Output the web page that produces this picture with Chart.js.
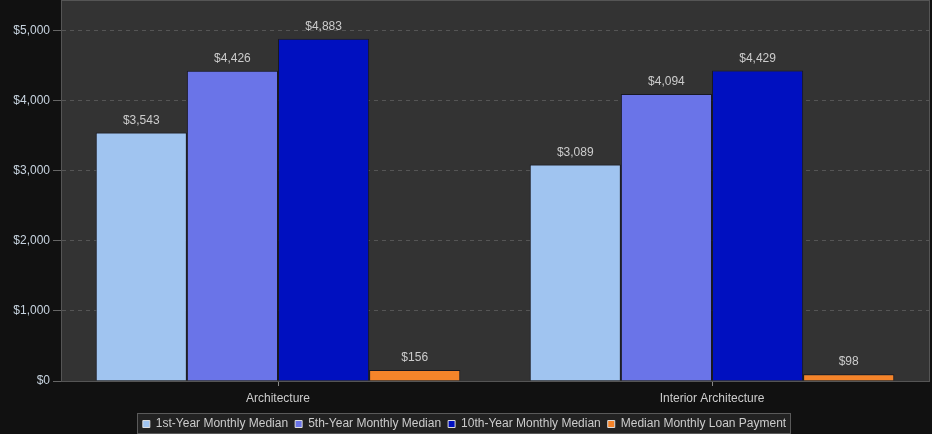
<!DOCTYPE html>
<html>
<head>
<meta charset="utf-8">
<script src="https://cdn.jsdelivr.net/npm/chart.js@4/dist/chart.umd.min.js"></script>
<style>
html,body{margin:0;padding:0;background:#111111;}
#wrap{width:932px;height:434px;position:relative;}
</style>
</head>
<body>
<div id="wrap"><canvas id="c" width="932" height="434"></canvas></div>
<script>
const categories = ["Architecture", "Interior Architecture"];
const seriesNames = ["1st-Year Monthly Median", "5th-Year Monthly Median", "10th-Year Monthly Median", "Median Monthly Loan Payment"];
const firstYear = [3543, 3089];
const fifthYear = [4426, 4094];
const tenthYear = [4883, 4429];
const loanPayment = [156, 98];
const yTicks = [0, 1000, 2000, 3000, 4000, 5000];
const yMax = 5420;

const colors = ["#A0C4F0", "#6A74E8", "#0010C0", "#F5842A"];
const seriesValues = [firstYear, fifthYear, tenthYear, loanPayment];
const FONT = "'Liberation Sans', Arial, sans-serif";

function money(v){ return "$" + v.toLocaleString("en-US"); }

function legendFrame(chart){
  const lg = chart.legend;
  if (!lg || !lg.legendHitBoxes || !lg.legendHitBoxes.length) return null;
  let l = Infinity, r = -Infinity, t = Infinity, b = -Infinity;
  lg.legendHitBoxes.forEach(h => { l=Math.min(l,h.left); r=Math.max(r,h.left+h.width); t=Math.min(t,h.top); b=Math.max(b,h.top+h.height); });
  return [Math.round(l)-5.5, Math.round(t)-4.5, Math.round(r-l)+10, Math.round(b-t)+8];
}

const bgPlugin = {
  id: "bgPlugin",
  beforeDraw(chart){
    const {ctx, chartArea:a} = chart;
    ctx.save();
    ctx.fillStyle = "#111111";
    ctx.fillRect(0,0,chart.width,chart.height);
    ctx.fillStyle = "#333333";
    ctx.fillRect(a.left, a.top, a.right-a.left, a.bottom-a.top);
    const f = legendFrame(chart);
    if (f){ ctx.fillStyle = "#222222"; ctx.fillRect(f[0], f[1], f[2], f[3]); }
    ctx.restore();
  },
  afterDraw(chart){
    const {ctx, chartArea:a} = chart;
    ctx.save();
    ctx.strokeStyle = "#555555";
    ctx.lineWidth = 1;
    ctx.strokeRect(Math.round(a.left)+0.5, Math.round(a.top)-0.5, Math.round(a.right-a.left), Math.round(a.bottom-a.top)+1);
    const f = legendFrame(chart);
    if (f){ ctx.strokeStyle = "#5a5a5a"; ctx.strokeRect(f[0], f[1], f[2], f[3]); }
    ctx.restore();
  }
};

const labelPlugin = {
  id: "valueLabels",
  afterDatasetsDraw(chart){
    const ctx = chart.ctx;
    ctx.save();
    ctx.font = "12px " + FONT;
    ctx.fillStyle = "#cccccc";
    ctx.textAlign = "center";
    ctx.textBaseline = "bottom";
    chart.data.datasets.forEach((ds, i) => {
      const meta = chart.getDatasetMeta(i);
      meta.data.forEach((el, j) => {
        ctx.fillText(money(ds.data[j]), el.x, el.y - 6);
      });
    });
    ctx.restore();
  }
};

new Chart(document.getElementById("c"), {
  type: "bar",
  data: {
    labels: categories,
    datasets: seriesNames.map((n, i) => ({
      label: n,
      data: seriesValues[i],
      backgroundColor: colors[i],
      borderColor: "rgba(20,20,30,0.85)",
      borderWidth: 1,
      categoryPercentage: 0.84,
      barPercentage: 1.0
    }))
  },
  options: {
    responsive: false,
    animation: false,
    layout: { padding: { top: 1, right: 3, left: 0, bottom: -6 } },
    plugins: {
      tooltip: { enabled: false },
      legend: {
        position: "bottom",
        labels: {
          color: "#cccccc",
          font: { size: 12, family: FONT },
          boxWidth: 7,
          boxHeight: 7,
          padding: 7,
          generateLabels(chart){
            return chart.data.datasets.map((ds, i) => ({
              text: ds.label,
              fillStyle: ds.backgroundColor,
              strokeStyle: "#dddddd",
              lineWidth: 1,
              fontColor: "#cccccc",
              datasetIndex: i,
              hidden: false
            }));
          }
        }
      }
    },
    scales: {
      x: {
        grid: { display: true, offset: false, drawOnChartArea: false, drawTicks: true, tickLength: 5, color: "#666666", tickColor: "#888888" },
        border: { display: true, color: "#666666" },
        ticks: { color: "#cccccc", font: { size: 12, family: FONT }, padding: 5 },
        afterFit(s){ s.height = 30; }
      },
      y: {
        min: 0,
        max: yMax,
        grid: { color: "#555555", tickColor: "#666666", tickLength: 8, tickBorderDash: [], drawTicks: true },
        border: { display: true, color: "#555555", dash: [4, 4] },
        ticks: { color: "#c8d4e0", font: { size: 12, family: FONT }, padding: 3, callback: v => money(v) },
        afterBuildTicks(s){ s.ticks = yTicks.map(v => ({ value: v })); },
        afterFit(s){ s.width = 61; s.paddingTop = 0; s.paddingBottom = 0; }
      }
    }
  },
  plugins: [bgPlugin, labelPlugin]
});
</script>
</body>
</html>
